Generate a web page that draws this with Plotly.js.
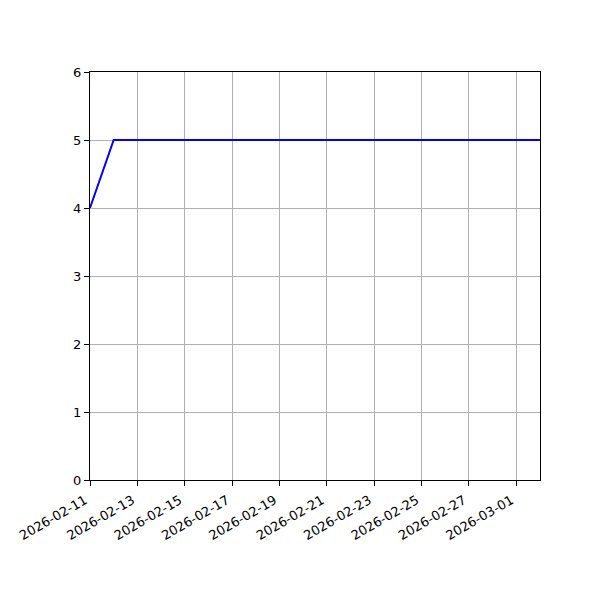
<!DOCTYPE html>
<html>
<head>
<meta charset="utf-8">
<script src="https://cdn.plot.ly/plotly-3.0.1.min.js"></script>
<style>body{margin:0;background:#fff}#gd{width:600px;height:600px}</style>
</head>
<body>
<div id="gd"></div>
<script>
const dates = ['2026-02-11','2026-02-12','2026-02-13','2026-02-14','2026-02-15','2026-02-16','2026-02-17',
  '2026-02-18','2026-02-19','2026-02-20','2026-02-21','2026-02-22','2026-02-23','2026-02-24',
  '2026-02-25','2026-02-26','2026-02-27','2026-02-28','2026-03-01','2026-03-02'];
const values = [4,5,5,5,5,5,5,5,5,5,5,5,5,5,5,5,5,5,5,5];

const gd = document.getElementById('gd');

const data = [{
  x: dates,
  y: values,
  type: 'scatter',
  mode: 'lines',
  line: { color: '#0000ff', width: 2 },
  hoverinfo: 'x+y'
}];

const axisCommon = {
  showline: true,
  linecolor: '#000',
  linewidth: 1,
  mirror: true,
  ticks: 'outside',
  ticklen: 5,
  tickwidth: 1,
  tickcolor: '#000',
  showgrid: true,
  gridcolor: '#b0b0b0',
  gridwidth: 1,
  zeroline: false,
  tickfont: { family: 'DejaVu Sans, sans-serif', size: 13, color: '#000' }
};

const layout = {
  width: 600,
  height: 600,
  paper_bgcolor: '#fff',
  plot_bgcolor: '#fff',
  showlegend: false,
  margin: { l: 90, r: 60, t: 72, b: 120 },
  xaxis: Object.assign({}, axisCommon, {
    type: 'date',
    range: ['2026-02-11', '2026-03-02'],
    tick0: '2026-02-11',
    dtick: 2 * 86400000,
    tickformat: '%Y-%m-%d',
    tickangle: -30,
    ticklabelshift: -5,
    ticklabelstandoff: 2
  }),
  yaxis: Object.assign({}, axisCommon, {
    range: [0, 6],
    dtick: 1
  })
};

Plotly.newPlot(gd, data, layout, { displayModeBar: false });
</script>
</body>
</html>
